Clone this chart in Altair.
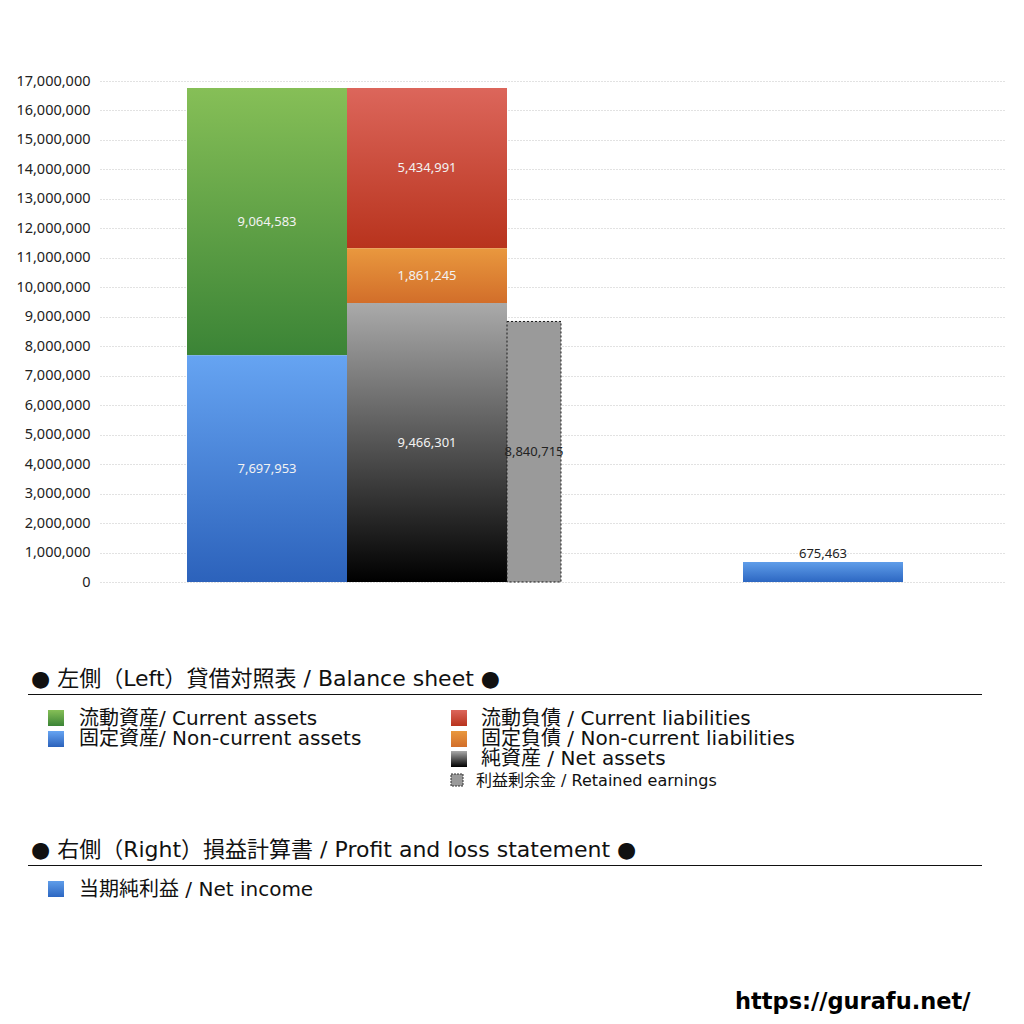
import altair as alt
import pandas as pd

# ---------------- data ----------------
keys = ["current_assets", "noncurrent_assets", "current_liab", "noncurrent_liab",
        "net_assets", "retained", "net_income"]
values = [9064583, 7697953, 5434991, 1861245, 9466301, 8840715, 675463]
columns = ["assets", "assets", "liab", "liab", "liab", "retained", "pl"]
# stacking order inside each column, bottom first
stack_order = ["noncurrent_assets", "current_assets",
               "net_assets", "noncurrent_liab", "current_liab",
               "retained", "net_income"]

y_ticks = list(range(0, 17000001, 1000000))

# ---------------- layout (style, not data) ----------------
# column start and width on an x scale measured in bar-widths
LAYOUT = {"assets": (0.54375, 1.0), "liab": (1.54375, 1.0),
          "retained": (2.54375, 0.3375), "pl": (4.01875, 1.0)}
X_DOMAIN = [0, 5.6625]
W, H = 906, 501

rows = []
cum = {}
for k in stack_order:
    i = keys.index(k)
    col = columns[i]
    base_v = cum.get(col, 0)
    start, width = LAYOUT[col]
    rows.append({"key": k, "value": values[i], "y0": base_v, "y1": base_v + values[i],
                 "ym": base_v + values[i] / 2, "x0": start, "x1": start + width,
                 "xc": start + width / 2})
    cum[col] = base_v + values[i]
df = pd.DataFrame(rows)

xs = alt.Scale(domain=X_DOMAIN, nice=False, zero=False)
ys = alt.Scale(domain=[0, 17000000], nice=False)
yaxis = alt.Axis(values=y_ticks, format=",d", title=None)


def grad(top, bottom):
    return alt.Gradient(gradient="linear",
                        stops=[alt.GradientStop(color=top, offset=0),
                               alt.GradientStop(color=bottom, offset=1)],
                        x1=0, x2=0, y1=0, y2=1)


GRADS = {
    "current_assets": grad("#86bf57", "#3b8436"),
    "noncurrent_assets": grad("#66a4f2", "#2c62bb"),
    "current_liab": grad("#dc665b", "#b8331d"),
    "noncurrent_liab": grad("#e9983e", "#d26e2a"),
    "net_assets": grad("#aaaaaa", "#000000"),
    "net_income": grad("#5f9de9", "#2d67c2"),
}

base = alt.Chart(df)


def X(f):
    return alt.X(f, scale=xs, axis=None)


def Y(f):
    return alt.Y(f, scale=ys, axis=yaxis)


layers = []
for k in ["current_assets", "noncurrent_assets", "current_liab", "noncurrent_liab",
          "net_assets", "net_income"]:
    layers.append(
        base.transform_filter(alt.datum.key == k)
        .mark_bar(color=GRADS[k], cornerRadius=0)
        .encode(x=X("x0:Q"), x2="x1:Q", y=Y("y0:Q"), y2="y1:Q")
    )

# retained earnings (dashed outline)
layers.append(
    base.transform_filter(alt.datum.key == "retained")
    .mark_bar(color="#9a9a9a", stroke="#1a1a1a", strokeWidth=1, strokeDash=[2, 2])
    .encode(x=X("x0:Q"), x2="x1:Q", y=Y("y0:Q"), y2="y1:Q")
)

NUMFONT = "Noto Sans"
# value labels inside segments
layers.append(
    base.transform_filter(
        alt.FieldOneOfPredicate(field="key", oneOf=["current_assets", "noncurrent_assets",
                                                    "current_liab", "noncurrent_liab",
                                                    "net_assets"]))
    .mark_text(color="#f2f2f2", fontSize=13, font=NUMFONT)
    .encode(x=X("xc:Q"), y=Y("ym:Q"), text=alt.Text("value:Q", format=",d"))
)
layers.append(
    base.transform_filter(alt.datum.key == "retained")
    .mark_text(color="#222222", fontSize=13, font=NUMFONT)
    .encode(x=X("xc:Q"), y=Y("ym:Q"), text=alt.Text("value:Q", format=",d"))
)
layers.append(
    base.transform_filter(alt.datum.key == "net_income")
    .mark_text(color="#222222", fontSize=13, font=NUMFONT, baseline="bottom", dy=-1)
    .encode(x=X("xc:Q"), y=Y("y1:Q"), text=alt.Text("value:Q", format=",d"))
)

# ---------------- legend drawn as annotations ----------------
one = pd.DataFrame({"a": [0]})
OX, OY = 100, 81  # plot origin on page
JP = "DejaVu Sans, Noto Sans CJK JP"


def txt(s, px, py, size=20, weight="normal", font=JP, color="#111111"):
    return alt.Chart(one).mark_text(text=s, align="left", baseline="middle",
                                    fontSize=size, font=font, fontWeight=weight,
                                    color=color).encode(
        x=alt.value(px - OX), y=alt.value(py - OY))


def sq(px, py, fill, size=16, stroke=None, dash=None):
    kw = {}
    if stroke:
        kw = {"stroke": stroke, "strokeDash": dash, "strokeWidth": 1}
    return alt.Chart(one).mark_rect(color=fill, **kw).encode(
        x=alt.value(px - OX), x2=alt.value(px - OX + size),
        y=alt.value(py - OY), y2=alt.value(py - OY + size))


def hline(py, x0=28, x1=982):
    return alt.Chart(one).mark_rule(color="#111111", strokeWidth=1).encode(
        x=alt.value(x0 - OX), x2=alt.value(x1 - OX), y=alt.value(py - OY))


legend = [
    txt("● 左側（Left）貸借対照表 / Balance sheet ●", 31, 679, size=22),
    hline(694.5),
    sq(48, 710, GRADS["current_assets"]), txt("流動資産/ Current assets", 79, 719),
    sq(48, 731, GRADS["noncurrent_assets"]), txt("固定資産/ Non-current assets", 79, 739),
    sq(451, 710, GRADS["current_liab"]), txt("流動負債 /  Current liabilities", 481, 719),
    sq(451, 731, GRADS["noncurrent_liab"]), txt("固定負債 / Non-current liabilities", 481, 739),
    sq(451, 751, GRADS["net_assets"]), txt("純資産 / Net assets", 481, 759),
    sq(451, 774, "#9a9a9a", size=12, stroke="#333333", dash=[2, 1]),
    txt("利益剰余金 / Retained earnings", 476, 781, size=16),
    txt("● 右側（Right）損益計算書 / Profit and loss statement ●", 31, 850, size=22),
    hline(865.5),
    sq(48, 881, GRADS["net_income"]), txt("当期純利益 / Net income", 79, 890),
    txt("https://gurafu.net/", 735, 1002, size=22.5, weight="bold", font="DejaVu Sans",
        color="#000000"),
]

chart = alt.layer(*layers, *legend).properties(
    width=W, height=H,
    autosize=alt.AutoSizeParams(type="none"),
    padding={"left": 92, "top": 73, "right": 10, "bottom": 432},
).configure_view(stroke=None).configure_axis(
    grid=True, gridColor="#c4c4c4", gridDash=[1, 2], gridWidth=1,
    domain=False, ticks=False, labelFontSize=14.5, labelFont="Noto Sans",
    labelColor="#222222", labelPadding=10,
)

chart.save("out.html", embed_options={"renderer": "svg", "actions": False})
